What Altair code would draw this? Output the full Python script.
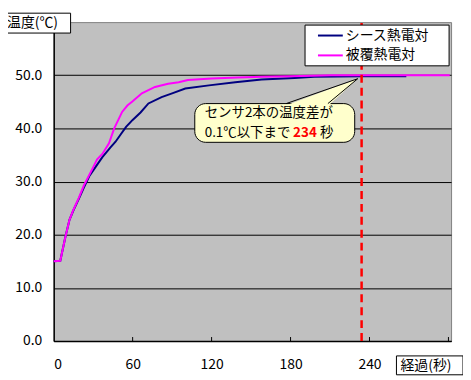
import altair as alt
import pandas as pd

FONT = "Noto Sans CJK JP"

# ---- data ----
sheath_t = [0, 5, 9, 12, 15, 19, 23, 27, 32, 37, 43, 47, 51, 55, 60, 66, 72, 82, 90, 100, 118, 138, 158, 183, 198, 234, 268]
sheath_v = [15.0, 15.1, 19.7, 22.8, 24.6, 26.7, 28.9, 31.0, 32.8, 34.6, 36.4, 37.5, 38.9, 40.3, 41.6, 43.0, 44.7, 45.9, 46.6, 47.5, 48.1, 48.7, 49.2, 49.5, 49.7, 49.8, 49.8]
cover_t = [0, 5, 9, 12, 15, 19, 23, 29, 33, 37, 42, 46, 52, 56, 60, 67, 77, 87, 95, 102, 120, 140, 158, 180, 211, 250, 301]
cover_v = [15.0, 15.1, 19.7, 22.8, 24.7, 26.9, 29.3, 32.2, 34.2, 35.2, 37.2, 40.0, 43.1, 44.3, 45.1, 46.6, 47.8, 48.4, 48.7, 49.1, 49.4, 49.6, 49.7, 49.8, 50.0, 50.0, 50.0]
series_names = ["シース熱電対", "被覆熱電対"]
series_colors = ["#000080", "#FF00FF"]
marker_time = [234]
x_tick_labels = [0, 60, 120, 180, 240]
x_tick_marks = [60, 120, 180, 240, 300]
y_tick_labels = [0, 10, 20, 30, 40, 50]

df = pd.concat([
    pd.DataFrame({"t": sheath_t, "v": sheath_v, "s": series_names[0]}),
    pd.DataFrame({"t": cover_t, "v": cover_v, "s": series_names[1]}),
])

W, H = 400, 321
xs = alt.Scale(domain=[0, 302], nice=False, zero=False)
ys = alt.Scale(domain=[0, 60], nice=False)

one = alt.Data(values=[{"a": 1}])

lines = alt.Chart(df).mark_line(strokeWidth=2).encode(
    x=alt.X("t:Q", scale=xs,
            axis=alt.Axis(values=x_tick_labels, title=None, grid=False, ticks=False,
                          domainColor="black", domainWidth=1.5, labelPadding=17,
                          labelFont=FONT, labelFontSize=14, labelColor="black")),
    y=alt.Y("v:Q", scale=ys,
            axis=alt.Axis(values=y_tick_labels, format=".1f", title=None, ticks=False,
                          grid=True, gridColor="black", gridWidth=1,
                          domainColor="black", domainWidth=1.5, labelPadding=12,
                          labelFont=FONT, labelFontSize=14, labelColor="black")),
    color=alt.Color("s:N", scale=alt.Scale(domain=series_names, range=series_colors), legend=None),
    order="t:Q",
)

red = alt.Chart(pd.DataFrame({"t": marker_time})).mark_rule(
    color="#FF0000", strokeWidth=2.5, strokeDash=[8, 5]
).encode(x=alt.X("t:Q", scale=xs), y=alt.datum(0), y2=alt.datum(60))

xticks = alt.Chart(pd.DataFrame({"t": x_tick_marks})).mark_rule(color="black", strokeWidth=1).encode(
    x=alt.X("t:Q", scale=xs), y=alt.value(H - 4), y2=alt.value(H))

# legend (drawn by hand)
leg_box = alt.Chart(one).mark_rect(fill="white", stroke="black", strokeWidth=1).encode(
    x=alt.value(253), x2=alt.value(398), y=alt.value(3), y2=alt.value(44))
leg_df = pd.DataFrame({"s": series_names, "c": series_colors, "yy": [13.5, 33.5]})
leg_lines = alt.Chart(leg_df).mark_rule(strokeWidth=2).encode(
    x=alt.value(266), x2=alt.value(291), y=alt.Y("yy:Q", scale=None),
    color=alt.Color("c:N", scale=None))
leg_text = alt.Chart(leg_df).mark_text(align="left", baseline="middle", font=FONT, fontSize=14, color="black").encode(
    x=alt.value(294), y=alt.Y("yy:Q", scale=None), text="s:N")

# callout
call_box = alt.Chart(one).mark_rect(fill="#FFFFCC", stroke="black", strokeWidth=1, cornerRadius=11).encode(
    x=alt.value(142), x2=alt.value(303), y=alt.value(82), y2=alt.value(121))
call_fill = alt.Chart(one).mark_point(shape="M-0.5,2 L42.5,2 L72,-25 Z", size=4, filled=True,
                                      fill="#FFFFCC", opacity=1, strokeWidth=0).encode(
    x=alt.value(234), y=alt.value(82))
call_edge = alt.Chart(one).mark_point(shape="M0,0 L72,-25 L42,0", size=4, filled=False,
                                      stroke="black", strokeWidth=1, opacity=1).encode(
    x=alt.value(234), y=alt.value(82))
call_t1 = alt.Chart(one).mark_text(align="left", baseline="middle", font=FONT, fontSize=13.5, color="black",
                                   text="センサ2本の温度差が").encode(x=alt.value(152), y=alt.value(91.5))
call_t2 = alt.Chart(one).mark_text(align="left", baseline="middle", font=FONT, fontSize=13.5, color="black",
                                   text="0.1℃以下まで").encode(x=alt.value(152), y=alt.value(111.5))
call_t3 = alt.Chart(one).mark_text(align="left", baseline="middle", font=FONT, fontSize=13.5, color="#FF0000",
                                   fontWeight="bold", text=str(marker_time[0])).encode(x=alt.value(241), y=alt.value(111.5))
call_t4 = alt.Chart(one).mark_text(align="left", baseline="middle", font=FONT, fontSize=13.5, color="black",
                                   text="秒").encode(x=alt.value(268), y=alt.value(111.5))

# axis titles in boxes
yt_box = alt.Chart(one).mark_rect(fill="white", stroke="black", strokeWidth=1).encode(
    x=alt.value(-51), x2=alt.value(17), y=alt.value(-9), y2=alt.value(11))
yt_text = alt.Chart(one).mark_text(align="left", baseline="middle", font=FONT, fontSize=14, color="black",
                                   text="温度(℃)").encode(x=alt.value(-47), y=alt.value(1))
xt_box = alt.Chart(one).mark_rect(fill="white", stroke="black", strokeWidth=1).encode(
    x=alt.value(345), x2=alt.value(412), y=alt.value(336), y2=alt.value(355))
xt_text = alt.Chart(one).mark_text(align="left", baseline="middle", font=FONT, fontSize=14, color="black",
                                   text="経過(秒)").encode(x=alt.value(349), y=alt.value(346))

chart = alt.layer(
    lines, red, xticks, leg_box, leg_lines, leg_text,
    call_box, call_fill, call_edge, call_t1, call_t2, call_t3, call_t4,
    yt_box, yt_text, xt_box, xt_text,
).properties(
    width=W, height=H,
    autosize=alt.AutoSizeParams(type="none"),
    padding={"left": 46, "top": 13, "right": 12, "bottom": 34},
    background="white",
).configure_view(fill="#C0C0C0", stroke="#808080", strokeWidth=1)

chart.save("out.html", embed_options={"renderer": "svg", "actions": False})
